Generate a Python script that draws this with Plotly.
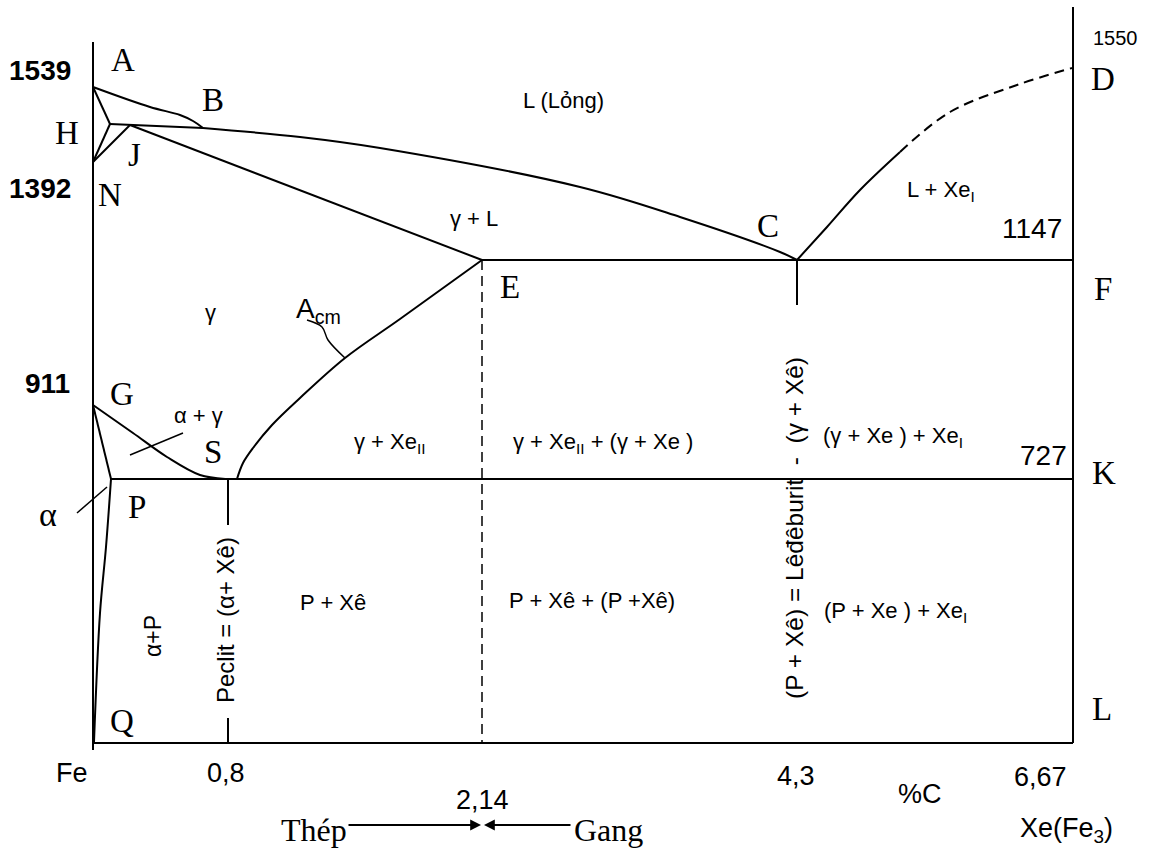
import plotly.graph_objects as go

# ---------------------------------------------------------------
# Fe - Fe3C phase diagram (schematic).  Coordinates are schematic
# diagram units: u = horizontal position (0 = Fe, 980 = Fe3C),
# v = vertical position (0 = base line of the diagram).
# ---------------------------------------------------------------

# Frame
frame_left_u, frame_left_v = [0, 0], [701, -7]
frame_right_u, frame_right_v = [980, 980], [736, 0]
frame_bottom_u, frame_bottom_v = [0, 980], [0, 0]

# Phase boundary lines
AB_u, AB_v = [0, 57, 87, 100, 110], [656, 636, 628, 622, 615]
AH_u, AH_v = [0, 17], [656, 619]
HN_u, HN_v = [17, 0], [619, 581]
NJ_u, NJ_v = [0, 37], [581, 618]
HB_u, HB_v = [17, 37, 110], [619, 618, 615]
BC_u, BC_v = [110, 207, 287, 487, 587, 687, 704], [615, 606, 595, 556, 526, 491, 483]
JE_u, JE_v = [37, 389], [618, 483]
ECF_u, ECF_v = [389, 980], [483, 483]
CD_solid_u, CD_solid_v = [704, 734, 767, 807], [483, 516, 553, 591]
CD_dash_u, CD_dash_v = [807, 857, 924, 979], [591, 631, 658, 675]
C_tick_u, C_tick_v = [704, 704], [483, 438]
GS_u, GS_v = [0, 40, 74, 107, 134, 137], [338, 310, 286, 268, 264, 264]
GP_u, GP_v = [0, 9, 18], [338, 301, 264]
PQ_u, PQ_v = [18, 13, 7, 1], [264, 196, 130, 1]
PSK_u, PSK_v = [18, 980], [264, 264]
S_top_u, S_top_v = [135, 135], [264, 218]
S_bot_u, S_bot_v = [135, 135], [25, 0]
Acm_u = [144, 150, 160, 179, 207, 252, 307, 389]
Acm_v = [264, 280, 295, 318, 345, 385, 424, 483]
E_dash_u, E_dash_v = [389, 389], [483, 0]

# Leader lines
Acm_lead_u, Acm_lead_v = [214, 229, 235, 252], [423, 416, 403, 385]
alpha_lead_u, alpha_lead_v = [-16, 14], [230, 256]
ag_lead_u, ag_lead_v = [37, 90], [288, 310]

# Point letters (serif)
point_names = ["A", "B", "H", "J", "N", "G", "S", "P", "Q", "E", "C", "D", "F", "K", "L"]
point_u = [30, 120, -26, 41, 17, 29, 120, 44, 29, 417, 675, 1010, 1010, 1011, 1009]
point_v = [683, 643, 610, 588, 548, 349, 291, 236, 22, 456, 517, 664, 454, 270, 34]

# Temperature labels
temp_bold_text = ["1539", "1392", "911"]
temp_bold_u = [-53, -53, -46]
temp_bold_v = [673, 555, 360]
temp_right_text = ["1147", "727"]
temp_right_u = [939, 950]
temp_right_v = [515, 288]
temp_top_text, temp_top_u, temp_top_v = "1550", 1022, 705

# Composition labels (bottom)
comp_text = ["Fe", "0,8", "2,14", "4,3", "%C", "6,67"]
comp_u = [-21, 133, 389, 703, 827, 947]
comp_v = [-30, -30, -57, -33, -51, -34]

# Phase region labels
region_text = ["L (Lỏng)", "γ + L", "L + Xe<sub>I</sub>", "γ", "α + γ",
               "γ + Xe<sub>II</sub>", "γ + Xe<sub>II</sub> + (γ + Xe )",
               "(γ + Xe ) + Xe<sub>I</sub>", "P + Xê", "P + Xê + (P +Xê)",
               "(P + Xe ) + Xe<sub>I</sub>"]
region_u = [470, 381, 848, 117, 105, 297, 510, 800, 240, 499, 802]
region_v = [643, 525, 552, 431, 328, 300, 300, 306, 141, 143, 131]

# Rotated region labels
rot_text = ["α+P", "Peclit = (α+ Xê)", "(P + Xê) = Lêđêburit  -  (γ + Xê)"]
rot_u = [60, 132, 701]
rot_v = [107, 123, 215]

SERIF = "Liberation Serif, Times New Roman, serif"
SANS = "Liberation Sans, Arial, sans-serif"

fig = go.Figure()


def add_line(u, v, dash="solid", width=2, shape="linear"):
    fig.add_trace(go.Scatter(x=u, y=v, mode="lines",
                             line=dict(color="black", width=width, dash=dash,
                                       shape=shape, smoothing=1.0),
                             hoverinfo="skip", showlegend=False))


for u, v in [(frame_left_u, frame_left_v), (frame_right_u, frame_right_v),
             (frame_bottom_u, frame_bottom_v), (AH_u, AH_v),
             (HN_u, HN_v), (NJ_u, NJ_v), (HB_u, HB_v),
             (JE_u, JE_v), (ECF_u, ECF_v),
             (C_tick_u, C_tick_v), (GP_u, GP_v),
             (PSK_u, PSK_v), (S_top_u, S_top_v), (S_bot_u, S_bot_v)]:
    add_line(u, v)
for u, v in [(AB_u, AB_v), (BC_u, BC_v), (CD_solid_u, CD_solid_v),
             (GS_u, GS_v), (PQ_u, PQ_v), (Acm_u, Acm_v)]:
    add_line(u, v, shape="spline")
add_line(CD_dash_u, CD_dash_v, dash="10px,6px", shape="spline")
add_line(E_dash_u, E_dash_v, dash="10px,6px", width=1.5)
add_line(Acm_lead_u, Acm_lead_v, width=1.5, shape="spline")
add_line(alpha_lead_u, alpha_lead_v, width=1.5)
add_line(ag_lead_u, ag_lead_v, width=1.5)

ann = []


def txt(t, u, v, family, size, angle=0):
    ann.append(dict(x=u, y=v, xref="x", yref="y", text=t, showarrow=False,
                    xanchor="center", yanchor="middle", textangle=angle,
                    font=dict(family=family, size=size, color="black")))


for t, u, v in zip(point_names, point_u, point_v):
    txt(t, u, v, SERIF, 33)
txt("α", -45, 229, SERIF, 34)
for t, u, v in zip(temp_bold_text, temp_bold_u, temp_bold_v):
    txt("<b>" + t + "</b>", u, v, SANS, 28)
for t, u, v in zip(temp_right_text, temp_right_u, temp_right_v):
    txt(t, u, v, SANS, 28)
txt(temp_top_text, temp_top_u, temp_top_v, SANS, 20)
for t, u, v in zip(comp_text, comp_u, comp_v):
    txt(t, u, v, SANS, 27)
for t, u, v in zip(region_text, region_u, region_v):
    txt(t, u, v, SANS, 22)
txt("A<sub>cm</sub>", 225, 433, SANS, 28)
txt(rot_text[0], rot_u[0], rot_v[0], SANS, 23, angle=-90)
txt(rot_text[1], rot_u[1], rot_v[1], SANS, 24, angle=-90)
txt(rot_text[2], rot_u[2], rot_v[2], SANS, 24.5, angle=-90)

# Bottom: Thép -> <- Gang, Xe(Fe3)
txt("Thép", 221, -87, SERIF, 32)
txt("Gang", 515, -87, SERIF, 32)
txt("Xe(Fe<sub>3</sub>)", 973, -87, SANS, 27)
ann.append(dict(x=388, y=-82, ax=254, ay=-82, xref="x", yref="y", axref="x", ayref="y",
                text="", showarrow=True, arrowhead=2, arrowsize=1.2, arrowwidth=1.8,
                arrowcolor="black", standoff=0, startstandoff=0))
ann.append(dict(x=391, y=-82, ax=479, ay=-82, xref="x", yref="y", axref="x", ayref="y",
                text="", showarrow=True, arrowhead=2, arrowsize=1.2, arrowwidth=1.8,
                arrowcolor="black", standoff=0, startstandoff=0))

fig.update_layout(
    width=1153, height=849, autosize=False,
    margin=dict(l=0, r=0, t=0, b=0, pad=0),
    paper_bgcolor="white", plot_bgcolor="white",
    xaxis=dict(range=[-93, 1060], visible=False, fixedrange=True),
    yaxis=dict(range=[-106, 743], visible=False, fixedrange=True),
    annotations=ann,
)

fig.write_html("out.html", config={"displayModeBar": False},
               post_script="document.body.style.margin='0';document.body.style.overflow='hidden';")
